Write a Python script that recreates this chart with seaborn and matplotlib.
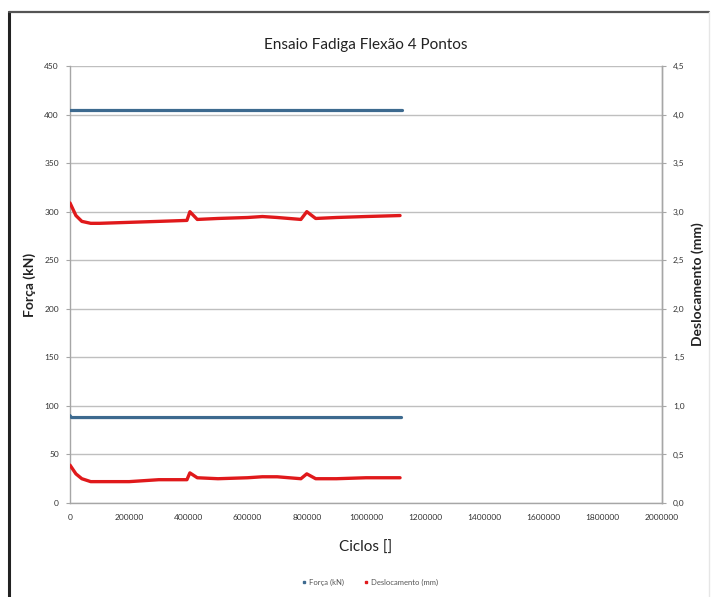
import matplotlib
matplotlib.use("Agg")
import matplotlib.pyplot as plt
from matplotlib.lines import Line2D
import seaborn as sns
import pandas as pd

# ---- data ----
force_x = [0, 5000, 400000, 800000, 1120000]
force_max = [405, 405, 405, 405, 405]
force_min = [90, 88, 88, 88, 88]

disp_x = [0, 20000, 40000, 70000, 100000, 200000, 300000, 395000, 405000, 430000,
          500000, 600000, 650000, 700000, 780000, 800000, 830000, 900000, 1000000, 1115000]
disp_max = [3.09, 2.96, 2.90, 2.88, 2.88, 2.89, 2.90, 2.91, 3.00, 2.92,
            2.93, 2.94, 2.95, 2.94, 2.92, 3.00, 2.93, 2.94, 2.95, 2.96]
disp_min = [0.39, 0.30, 0.25, 0.22, 0.22, 0.22, 0.24, 0.24, 0.31, 0.26,
            0.25, 0.26, 0.27, 0.27, 0.25, 0.30, 0.25, 0.25, 0.26, 0.26]

x_ticks = [0, 200000, 400000, 600000, 800000, 1000000, 1200000, 1400000, 1600000, 1800000, 2000000]
left_ticks = [0, 50, 100, 150, 200, 250, 300, 350, 400, 450]
right_ticks = [0.0, 0.5, 1.0, 1.5, 2.0, 2.5, 3.0, 3.5, 4.0, 4.5]

title = "Ensaio Fadiga Flexão 4 Pontos"
xlabel = "Ciclos []"
ylabel_left = "Força (kN)"
ylabel_right = "Deslocamento (mm)"
legend_labels = ["Força (kN)", "Deslocamento (mm)"]

BLUE = "#3d6a8f"
RED = "#e0191b"

sns.set_style("white")
plt.rcParams['font.family'] = ['Lato', 'DejaVu Sans']

fig = plt.figure(figsize=(7.15, 5.97), dpi=100)
ax = fig.add_axes([70/715, 1-503/597, (662-70)/715, (503-66)/597])
ax2 = ax.twinx()

df_f = pd.DataFrame({"x": force_x, "max": force_max, "min": force_min})
df_d = pd.DataFrame({"x": disp_x, "max": disp_max, "min": disp_min})

sns.lineplot(data=df_f, x="x", y="max", ax=ax, color=BLUE, lw=2.3, zorder=3)
sns.lineplot(data=df_f, x="x", y="min", ax=ax, color=BLUE, lw=2.3, zorder=3)
sns.lineplot(data=df_d, x="x", y="max", ax=ax2, color=RED, lw=2.4, zorder=3)
sns.lineplot(data=df_d, x="x", y="min", ax=ax2, color=RED, lw=2.4, zorder=3)

ax.set_xlim(0, 2000000)
ax.set_ylim(0, 450)
ax2.set_ylim(0, 4.5)
ax.set_xticks(x_ticks)
ax.set_xticklabels([str(t) for t in x_ticks])
ax.set_yticks(left_ticks)
ax.set_yticklabels([str(t) for t in left_ticks])
ax2.set_yticks(right_ticks)
ax2.set_yticklabels([f"{t:.1f}".replace(".", ",") for t in right_ticks])

ax.yaxis.grid(True, color="#bfbfbf", lw=1.0)
ax.xaxis.grid(False)
ax.set_axisbelow(True)

for a in (ax, ax2):
    a.spines["top"].set_visible(False)
    for s in ("left", "bottom", "right"):
        a.spines[s].set_color("#a6a6a6")
        a.spines[s].set_linewidth(1.0)
ax2.spines["left"].set_visible(False)
ax2.spines["bottom"].set_visible(False)

ax.tick_params(axis="x", length=3, color="#a6a6a6", labelsize=6, labelcolor="#333333", pad=5)
ax.tick_params(axis="y", length=3, color="#a6a6a6", labelsize=6, labelcolor="#333333", pad=5)
ax2.tick_params(axis="y", length=3, color="#a6a6a6", labelsize=6, labelcolor="#333333", pad=5)

ax.set_xlabel(xlabel, fontsize=11, color="#222222", labelpad=14)
ax.set_ylabel(ylabel_left, fontsize=10, fontweight="bold", color="#222222", labelpad=6)
ax2.set_ylabel(ylabel_right, fontsize=10, fontweight="bold", color="#222222", labelpad=5, rotation=90)
ax.set_title(title, fontsize=11, color="#222222", pad=12)

handles = [Line2D([], [], color=BLUE, marker="s", markersize=2, lw=0),
           Line2D([], [], color=RED, marker="s", markersize=2, lw=0)]
fig.legend(handles, legend_labels, loc="center", bbox_to_anchor=(370/715, 1-582/597),
           ncol=2, frameon=False, fontsize=5.5, handlelength=0.6, handletextpad=0.4,
           columnspacing=2.5, labelcolor="#555555")

# outer frame
fig.add_artist(Line2D([9/715, 9/715], [0, 1-12/597], transform=fig.transFigure, color="#222222", lw=2.2))
fig.add_artist(Line2D([9/715, 709/715], [1-12/597, 1-12/597], transform=fig.transFigure, color="#555555", lw=1.6))
fig.add_artist(Line2D([709/715, 709/715], [0, 1-12/597], transform=fig.transFigure, color="#e6e6e6", lw=1.0))

fig.savefig("out.png", dpi=100)
